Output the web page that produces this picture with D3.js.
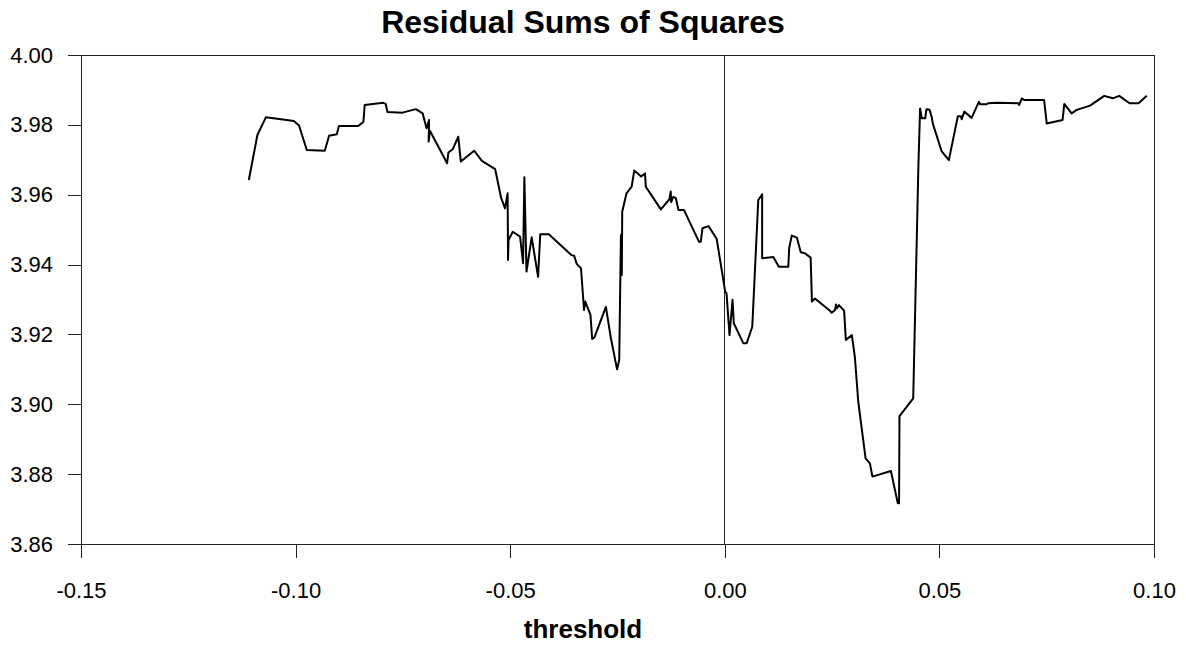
<!DOCTYPE html>
<html>
<head>
<meta charset="utf-8">
<script src="https://cdn.jsdelivr.net/npm/d3@7"></script>
<style>
  html, body { margin: 0; padding: 0; background: #fff; overflow: hidden; }
  svg { display: block; font-family: "Liberation Sans", Arial, sans-serif; }
  .axis path, .axis line { stroke: #222; stroke-width: 1; shape-rendering: crispEdges; }
  .axis text { font-size: 22px; fill: #000; }
</style>
</head>
<body>
<div id="viz"></div>
<script>
// Chart geometry
const width = 1186;
const height = 646;
const margin = {top: 55, right: 32, bottom: 102, left: 81};
const innerWidth = width - margin.left - margin.right;
const innerHeight = height - margin.top - margin.bottom;

// Chart text
const chartTitle = "Residual Sums of Squares";
const xLabel = "threshold";

// Axis ticks
const xTicks = [-0.15, -0.10, -0.05, 0.00, 0.05, 0.10];
const yTicks = [3.86, 3.88, 3.90, 3.92, 3.94, 3.96, 3.98, 4.00];

// Series: threshold and residual sum of squares
const thresholds = [
  -0.1109, -0.1089, -0.1069, -0.1004, -0.0992, -0.0974, -0.0932, -0.0922, -0.0904, -0.0899,
  -0.0854, -0.0842, -0.0839, -0.0796, -0.0790, -0.0786, -0.0751, -0.0720, -0.0704, -0.0695,
  -0.0689, -0.0690, -0.0687, -0.0647, -0.0644, -0.0634, -0.0621, -0.0615, -0.0584, -0.0566,
  -0.0535, -0.0521, -0.0512, -0.0506, -0.0505, -0.0504, -0.0494, -0.0477, -0.0470, -0.0467,
  -0.0462, -0.0450, -0.0435, -0.0430, -0.0410, -0.0357, -0.0351, -0.0345, -0.0335, -0.0328,
  -0.0325, -0.0313, -0.0309, -0.0304, -0.0277, -0.0266, -0.0251, -0.0246, -0.0242, -0.0240,
  -0.0239, -0.0229, -0.0217, -0.0211, -0.0195, -0.0186, -0.0184, -0.0149, -0.0129, -0.0126,
  -0.0125, -0.0120, -0.0114, -0.0108, -0.0095, -0.0060, -0.0056, -0.0052, -0.0038, -0.0019,
  0.0001, 0.0004, 0.0011, 0.0018, 0.0021, 0.0043, 0.0051, 0.0064, 0.0078, 0.0087,
  0.0087, 0.0113, 0.0126, 0.0148, 0.0150, 0.0156, 0.0168, 0.0177, 0.0187, 0.0200,
  0.0203, 0.0210, 0.0245, 0.0249, 0.0257, 0.0259, 0.0261, 0.0266, 0.0278, 0.0282,
  0.0296, 0.0303, 0.0311, 0.0328, 0.0338, 0.0344, 0.0387, 0.0403, 0.0406, 0.0407,
  0.0439, 0.0451, 0.0455, 0.0459, 0.0467, 0.0470, 0.0477, 0.0482, 0.0485, 0.0505,
  0.0522, 0.0543, 0.0550, 0.0552, 0.0558, 0.0575, 0.0592, 0.0595, 0.0610, 0.0614,
  0.0634, 0.0684, 0.0686, 0.0692, 0.0698, 0.0744, 0.0750, 0.0787, 0.0791, 0.0808,
  0.0820, 0.0851, 0.0884, 0.0904, 0.0919, 0.0943, 0.0964, 0.0983
];
const rss = [
  3.9642, 3.9771, 3.9822, 3.9811, 3.9798, 3.9728, 3.9726, 3.9769, 3.9773, 3.9797,
  3.9797, 3.9809, 3.9857, 3.9863, 3.9860, 3.9837, 3.9835, 3.9845, 3.9833, 3.9790,
  3.9814, 3.9752, 3.9783, 3.9690, 3.9721, 3.9730, 3.9766, 3.9695, 3.9726, 3.9697,
  3.9673, 3.9590, 3.9561, 3.9604, 3.9413, 3.9470, 3.9494, 3.9480, 3.9404, 3.9650,
  3.9380, 3.9478, 3.9365, 3.9487, 3.9487, 3.9427, 3.9425, 3.9402, 3.9389, 3.9270,
  3.9294, 3.9256, 3.9187, 3.9191, 3.9279, 3.9193, 3.9100, 3.9127, 3.9485, 3.9370,
  3.9551, 3.9604, 3.9623, 3.9669, 3.9652, 3.9661, 3.9623, 3.9558, 3.9587, 3.9609,
  3.9579, 3.9594, 3.9590, 3.9556, 3.9556, 3.9465, 3.9465, 3.9504, 3.9510, 3.9474,
  3.9322, 3.9318, 3.9198, 3.9299, 3.9232, 3.9175, 3.9175, 3.9222, 3.9585, 3.9601,
  3.9418, 3.9422, 3.9394, 3.9394, 3.9447, 3.9483, 3.9477, 3.9435, 3.9432, 3.9420,
  3.9294, 3.9303, 3.9268, 3.9262, 3.9270, 3.9286, 3.9275, 3.9284, 3.9268, 3.9184,
  3.9198, 3.9136, 3.9007, 3.8845, 3.8831, 3.8793, 3.8809, 3.8717, 3.8717, 3.8966,
  3.9017, 3.9680, 3.9847, 3.9819, 3.9819, 3.9845, 3.9843, 3.9823, 3.9802, 3.9725,
  3.9699, 3.9825, 3.9825, 3.9816, 3.9838, 3.9820, 3.9866, 3.9859, 3.9859, 3.9862,
  3.9863, 3.9862, 3.9857, 3.9876, 3.9871, 3.9871, 3.9804, 3.9814, 3.9860, 3.9833,
  3.9843, 3.9855, 3.9883, 3.9876, 3.9883, 3.9862, 3.9862, 3.9883
];

const data = thresholds.map((t, i) => ({threshold: t, rss: rss[i]}));

// Tick format with a plain hyphen for negatives
const fmt = d => d.toFixed(2);

const svg = d3.select("#viz")
  .append("svg")
  .attr("width", width)
  .attr("height", height);

const g = svg.append("g")
  .attr("transform", "translate(" + margin.left + "," + margin.top + ")");

// Scales
const xScale = d3.scaleLinear().domain([-0.15, 0.10]).range([0, innerWidth]);
const yScale = d3.scaleLinear().domain([3.86, 4.00]).range([innerHeight, 0]);

// Plot frame
g.append("rect")
  .attr("width", innerWidth)
  .attr("height", innerHeight)
  .attr("fill", "none")
  .attr("stroke", "#222")
  .attr("shape-rendering", "crispEdges");

// Vertical line at zero
g.append("line")
  .attr("x1", xScale(0)).attr("x2", xScale(0))
  .attr("y1", 0).attr("y2", innerHeight)
  .attr("stroke", "#222")
  .attr("shape-rendering", "crispEdges");

// Axes
g.append("g")
  .attr("class", "axis")
  .attr("transform", "translate(0," + innerHeight + ")")
  .call(d3.axisBottom(xScale)
    .tickValues(xTicks)
    .tickFormat(fmt)
    .tickSizeInner(14)
    .tickSizeOuter(0)
    .tickPadding(24));

g.append("g")
  .attr("class", "axis")
  .call(d3.axisLeft(yScale)
    .tickValues(yTicks)
    .tickFormat(fmt)
    .tickSizeInner(13)
    .tickSizeOuter(0)
    .tickPadding(15));

g.selectAll(".axis text").attr("font-family", null).attr("font-size", null);

// The line
const lineGenerator = d3.line()
  .x(d => xScale(d.threshold))
  .y(d => yScale(d.rss));

g.append("path")
  .datum(data)
  .attr("fill", "none")
  .attr("stroke", "#000")
  .attr("stroke-width", 2)
  .attr("stroke-linejoin", "round")
  .attr("d", lineGenerator);

// Title
svg.append("text")
  .text(chartTitle)
  .attr("x", 583)
  .attr("y", 33)
  .attr("text-anchor", "middle")
  .style("font-size", "32px")
  .style("font-weight", "bold");

// X-axis label
svg.append("text")
  .text(xLabel)
  .attr("x", 583)
  .attr("y", 638)
  .attr("text-anchor", "middle")
  .style("font-size", "26px")
  .style("font-weight", "bold");
</script>
</body>
</html>
